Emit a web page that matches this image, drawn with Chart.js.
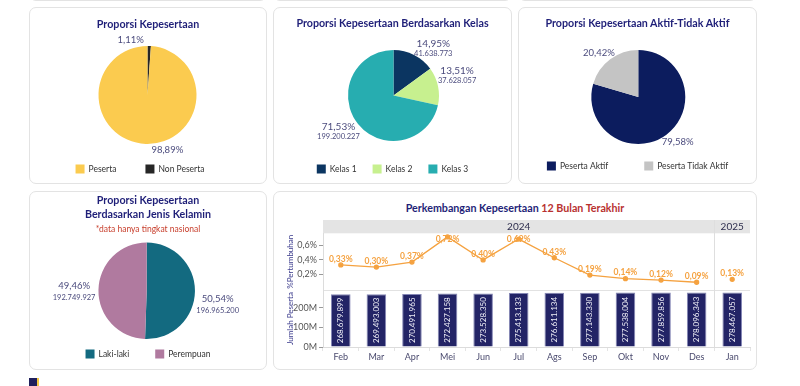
<!DOCTYPE html>
<html>
<head>
<meta charset="utf-8">
<title>Kepesertaan</title>
<script src="https://cdn.jsdelivr.net/npm/chart.js@4.4.1/dist/chart.umd.min.js"></script>
<style>
body{margin:0;background:#fff;font-family:Lato,sans-serif;}
#page{position:relative;width:800px;height:386px;overflow:hidden;}
.panel{position:absolute;box-sizing:border-box;border:1px solid #e3e3e3;border-radius:7px;background:#fff;}
.ttl{position:absolute;text-align:center;color:#1f1f78;font-weight:bold;font-size:10.7px;white-space:nowrap;line-height:14px;}
.sub{color:#c8402e;font-weight:normal;font-size:8.5px;}
canvas{position:absolute;}
#icon{position:absolute;left:29px;top:378px;width:8px;height:8px;background:#1f1f5c;border-right:2px solid #f5c842;}
</style>
</head>
<body>
<div id="page">
  <div class="panel" style="left:29px;top:-170px;width:238px;height:171px"></div>
  <div class="panel" style="left:273px;top:-170px;width:239px;height:171px"></div>
  <div class="panel" style="left:518px;top:-170px;width:239px;height:171px"></div>

  <div class="panel" style="left:29px;top:7px;width:238px;height:177px"></div>
  <div class="panel" style="left:273px;top:7px;width:239px;height:177px"></div>
  <div class="panel" style="left:518px;top:7px;width:239px;height:177px"></div>
  <div class="panel" style="left:29px;top:191px;width:238px;height:179px"></div>
  <div class="panel" style="left:273px;top:191px;width:484px;height:179px"></div>

  <canvas id="pie1" width="238" height="177" style="left:29px;top:7px"></canvas>
  <canvas id="pie2" width="239" height="177" style="left:273px;top:7px"></canvas>
  <canvas id="pie3" width="239" height="177" style="left:518px;top:7px"></canvas>
  <canvas id="pie4" width="238" height="179" style="left:29px;top:191px"></canvas>
  <canvas id="tren" width="482" height="150" style="left:274px;top:215px"></canvas>

  <div class="ttl" style="left:29px;width:238px;top:17px">Proporsi Kepesertaan</div>
  <div class="ttl" style="left:273px;width:239px;top:16px">Proporsi Kepesertaan Berdasarkan Kelas</div>
  <div class="ttl" style="left:518px;width:239px;top:16px">Proporsi Kepesertaan Aktif-Tidak Aktif</div>
  <div class="ttl" style="left:29px;width:238px;top:193px">Proporsi Kepesertaan<br>Berdasarkan Jenis Kelamin<br><span class="sub">*data hanya tingkat nasional</span></div>
  <div class="ttl" style="left:273px;width:484px;top:201px">Perkembangan Kepesertaan <span style="color:#b8312f">12 Bulan Terakhir</span></div>
  <div id="icon"></div>
</div>
<script>
// ---- data ----
var kepLabels = ['Non Peserta', 'Peserta'];
var kepPersen = [1.11, 98.89];

var kelasLabels = ['Kelas 1', 'Kelas 2', 'Kelas 3'];
var kelasJumlah = [41638773, 37628057, 199200227];

var aktifLabels = ['Peserta Aktif', 'Peserta Tidak Aktif'];
var aktifPersen = [79.58, 20.42];

var jkLabels = ['Laki-laki', 'Perempuan'];
var jkJumlah = [196965200, 192749927];

var bulan = ['Feb', 'Mar', 'Apr', 'Mei', 'Jun', 'Jul', 'Ags', 'Sep', 'Okt', 'Nov', 'Des', 'Jan'];
var tahun = ['2024', '2024', '2024', '2024', '2024', '2024', '2024', '2024', '2024', '2024', '2024', '2025'];
var pertumbuhan = [0.33, 0.30, 0.37, 0.72, 0.40, 0.69, 0.43, 0.19, 0.14, 0.12, 0.09, 0.13];
var jumlahPeserta = [268679899, 269493003, 270491965, 272427158, 273528350, 275413133,
                     276611134, 277143330, 277538004, 277859856, 278096343, 278467057];

var FONT = 'Lato, sans-serif';
var orange = '#f5a240';
var labelColor = '#4b4b7d';

function fmtNum(v) { return String(v).replace(/\B(?=(\d{3})+(?!\d))/g, '.'); }
function fmtPct(v) { return v.toFixed(2).replace('.', ',') + '%'; }

// labels around pie slices
var pieLabels = {
  id: 'pieLabels',
  afterDatasetsDraw: function (chart, args, o) {
    var ctx = chart.ctx;
    var vals = chart.data.datasets[0].data;
    var total = vals.reduce(function (a, b) { return a + b; }, 0);
    chart.getDatasetMeta(0).data.forEach(function (arc, i) {
      var p = arc.getProps(['x', 'y', 'startAngle', 'endAngle', 'outerRadius'], true);
      var ang = (o.angles && o.angles[i] != null) ? (o.angles[i] - 90) * Math.PI / 180 : (p.startAngle + p.endAngle) / 2;
      var ux = Math.cos(ang), uy = Math.sin(ang);
      var lines = [{ t: fmtPct(vals[i] / total * 100), f: o.pctFont, h: o.pctLine }];
      if (o.showCount) lines.push({ t: fmtNum(vals[i]), f: o.cntFont, h: o.cntLine });
      var w = 0, h = 0;
      lines.forEach(function (l) { ctx.font = l.f; w = Math.max(w, ctx.measureText(l.t).width); h += l.h; });
      var ax = p.x + ux * (p.outerRadius + o.pad), ay = p.y + uy * (p.outerRadius + o.pad);
      var cx = ax + ux * w / 2, cy = ay + uy * h / 2;
      var y = cy - h / 2;
      ctx.save();
      ctx.textAlign = 'center';
      ctx.textBaseline = 'middle';
      ctx.fillStyle = labelColor;
      lines.forEach(function (l) { ctx.font = l.f; ctx.fillText(l.t, cx, y + l.h / 2); y += l.h; });
      ctx.restore();
    });
  }
};

// square swatch legend under each pie
var swatchLegend = {
  id: 'swatchLegend',
  afterDraw: function (chart, args, o) {
    var ctx = chart.ctx;
    var ds = chart.data.datasets[0];
    var order = chart.data.labels.map(function (_, i) { return i; });
    if (o.reverse) order.reverse();
    ctx.save();
    ctx.font = '8.5px ' + FONT;
    ctx.textBaseline = 'middle';
    ctx.textAlign = 'left';
    var items = order.map(function (i) {
      return { i: i, w: 9 + 4 + ctx.measureText(chart.data.labels[i]).width };
    });
    var total = items.reduce(function (s, it) { return s + it.w; }, 0) + o.gap * (items.length - 1);
    var x = chart.width / 2 + (o.dx || 0) - total / 2;
    items.forEach(function (it) {
      ctx.fillStyle = ds.backgroundColor[it.i];
      ctx.fillRect(x, o.y - 4.5, 9, 9);
      ctx.fillStyle = '#333';
      ctx.fillText(chart.data.labels[it.i], x + 13, o.y);
      x += it.w + o.gap;
    });
    ctx.restore();
  }
};

function pieChart(id, labels, values, colors, pad, lbl, leg) {
  return new Chart(document.getElementById(id), {
    type: 'pie',
    data: { labels: labels, datasets: [{ data: values, backgroundColor: colors, borderWidth: 0 }] },
    options: {
      responsive: false,
      animation: false,
      layout: { padding: pad },
      plugins: {
        legend: { display: false },
        tooltip: { enabled: false },
        pieLabels: lbl,
        swatchLegend: leg
      }
    },
    plugins: [pieLabels, swatchLegend]
  });
}

var pctOnly = { pad: 3, pctFont: '9.5px ' + FONT, pctLine: 11, showCount: false };

pieChart('pie1', kepLabels, kepPersen, ['#262626', '#fbcb4f'],
  { left: 69.5, right: 70.5, top: 39, bottom: 40 },
  Object.assign({}, pctOnly, { angles: [345, 163] }),
  { y: 162, gap: 29, dx: -8, reverse: true });

pieChart('pie2', kelasLabels, kelasJumlah, ['#0b3561', '#c7f08f', '#27adb0'],
  { left: 75, right: 73, top: 43, bottom: 43 },
  { pad: 3, pctFont: '10px ' + FONT, pctLine: 10.5, cntFont: '7.5px ' + FONT, cntLine: 9, showCount: true, angles: [36, 70, 232] },
  { y: 162, gap: 16 });

pieChart('pie3', aktifLabels, aktifPersen, ['#0c1c5e', '#c4c4c4'],
  { left: 73.3, right: 71.7, top: 43, bottom: 40 },
  pctOnly,
  { y: 159, gap: 36 });

pieChart('pie4', jkLabels, jkJumlah, ['#136a80', '#b07a9f'],
  { left: 69.4, right: 72, top: 51.5, bottom: 31 },
  { pad: 3, pctFont: '9.5px ' + FONT, pctLine: 13, cntFont: '7.5px ' + FONT, cntLine: 10, showCount: true, angles: [102, 270] },
  { y: 163, gap: 26 });

// year header band, pane separator, month group divider
var yearHeader = {
  id: 'yearHeader',
  beforeDraw: function (chart, args, o) {
    var ctx = chart.ctx, a = chart.chartArea, x = chart.scales.x, yp = chart.scales.yPct;
    var half = (x.getPixelForValue(1) - x.getPixelForValue(0)) / 2;
    ctx.save();
    ctx.fillStyle = '#e4e4e4';
    ctx.fillRect(a.left, a.top - o.height, a.right - a.left, o.height);
    ctx.strokeStyle = '#e2e2e2';
    ctx.lineWidth = 1;
    ctx.beginPath();
    ctx.moveTo(a.left, Math.round(yp.bottom) + 0.5);
    ctx.lineTo(a.right, Math.round(yp.bottom) + 0.5);
    ctx.stroke();
    ctx.font = '10px ' + FONT;
    ctx.fillStyle = '#2e2e4e';
    ctx.textAlign = 'center';
    ctx.textBaseline = 'middle';
    var start = 0;
    for (var i = 1; i <= o.groups.length; i++) {
      if (i === o.groups.length || o.groups[i] !== o.groups[start]) {
        var l = x.getPixelForValue(start) - half, r = x.getPixelForValue(i - 1) + half;
        ctx.fillText(o.groups[start], (l + r) / 2, a.top - o.height / 2);
        if (i < o.groups.length) {
          ctx.strokeStyle = '#dedede';
          ctx.beginPath();
          ctx.moveTo(Math.round(r) + 0.5, a.top - o.height);
          ctx.lineTo(Math.round(r) + 0.5, a.bottom);
          ctx.stroke();
        }
        start = i;
      }
    }
    ctx.restore();
  }
};

// value labels on line points and inside bars
var markLabels = {
  id: 'markLabels',
  afterDatasetsDraw: function (chart) {
    var ctx = chart.ctx, a = chart.chartArea;
    ctx.save();
    ctx.textAlign = 'center';
    ctx.textBaseline = 'middle';
    ctx.font = 'bold 8.5px ' + FONT;
    ctx.fillStyle = orange;
    chart.getDatasetMeta(0).data.forEach(function (pt, i) {
      ctx.fillText(fmtPct(pertumbuhan[i]), pt.x, Math.max(pt.y - 6, a.top + 6));
    });
    ctx.font = '8px ' + FONT;
    ctx.fillStyle = '#f0f0f8';
    chart.getDatasetMeta(1).data.forEach(function (bar, i) {
      ctx.save();
      ctx.translate(bar.x, (bar.y + bar.base) / 2);
      ctx.rotate(-Math.PI / 2);
      ctx.fillText(fmtNum(jumlahPeserta[i]), 0, 0);
      ctx.restore();
    });
    ctx.restore();
  }
};

var tickFont = { family: FONT, size: 9 };
var axisTitle = { display: true, color: '#3b3b8c', font: { family: FONT, size: 8 }, padding: { top: 12, bottom: 0 } };

new Chart(document.getElementById('tren'), {
  type: 'bar',
  data: {
    labels: bulan,
    datasets: [
      {
        type: 'line',
        data: pertumbuhan,
        yAxisID: 'yPct',
        borderColor: orange,
        backgroundColor: orange,
        borderWidth: 1.3,
        pointRadius: 2,
        pointHoverRadius: 2,
        segment: {
          borderColor: function (c) { return tahun[c.p0DataIndex] !== tahun[c.p1DataIndex] ? 'transparent' : orange; }
        }
      },
      {
        type: 'bar',
        data: jumlahPeserta,
        yAxisID: 'yCnt',
        backgroundColor: '#232466',
        borderColor: '#8587b5',
        borderWidth: 1,
        barPercentage: 0.55,
        categoryPercentage: 1
      }
    ]
  },
  options: {
    responsive: false,
    animation: false,
    layout: { padding: { top: 18.3, right: 6, left: 0, bottom: 0 } },
    plugins: {
      legend: { display: false },
      tooltip: { enabled: false },
      yearHeader: { height: 13.3, groups: tahun }
    },
    scales: {
      x: {
        offset: true,
        grid: { offset: true, drawOnChartArea: false, tickLength: 4, tickColor: '#e4e4e4' },
        border: { color: '#dcdcdc' },
        ticks: { color: '#4a4a6e', font: tickFont, padding: 1 },
        afterFit: function (s) { s.height = 18; }
      },
      yCnt: {
        position: 'left', stack: 'v', stackWeight: 1,
        min: 0, max: 290e6,
        afterBuildTicks: function (s) { s.ticks = [0, 1e8, 2e8].map(function (v) { return { value: v }; }); },
        ticks: { color: '#555', font: tickFont, padding: 2, callback: function (v) { return (v / 1e6) + 'M'; } },
        grid: { drawOnChartArea: false, tickLength: 4, tickColor: '#999' },
        border: { color: '#dcdcdc' },
        title: Object.assign({ text: 'Jumlah Peserta' }, axisTitle),
        afterFit: function (s) { s.width = 49; }
      },
      yPct: {
        position: 'left', stack: 'v', stackWeight: 1,
        min: -0.02, max: 0.77,
        afterBuildTicks: function (s) { s.ticks = [0.2, 0.4, 0.6].map(function (v) { return { value: v }; }); },
        ticks: { color: '#555', font: tickFont, padding: 2, callback: function (v) { return v.toFixed(1).replace('.', ',') + '%'; } },
        grid: { drawOnChartArea: false, tickLength: 4, tickColor: '#999' },
        border: { color: '#dcdcdc' },
        title: Object.assign({ text: '%Pertumbuhan' }, axisTitle),
        afterFit: function (s) { s.width = 49; }
      }
    }
  },
  plugins: [yearHeader, markLabels]
});
</script>
</body>
</html>
